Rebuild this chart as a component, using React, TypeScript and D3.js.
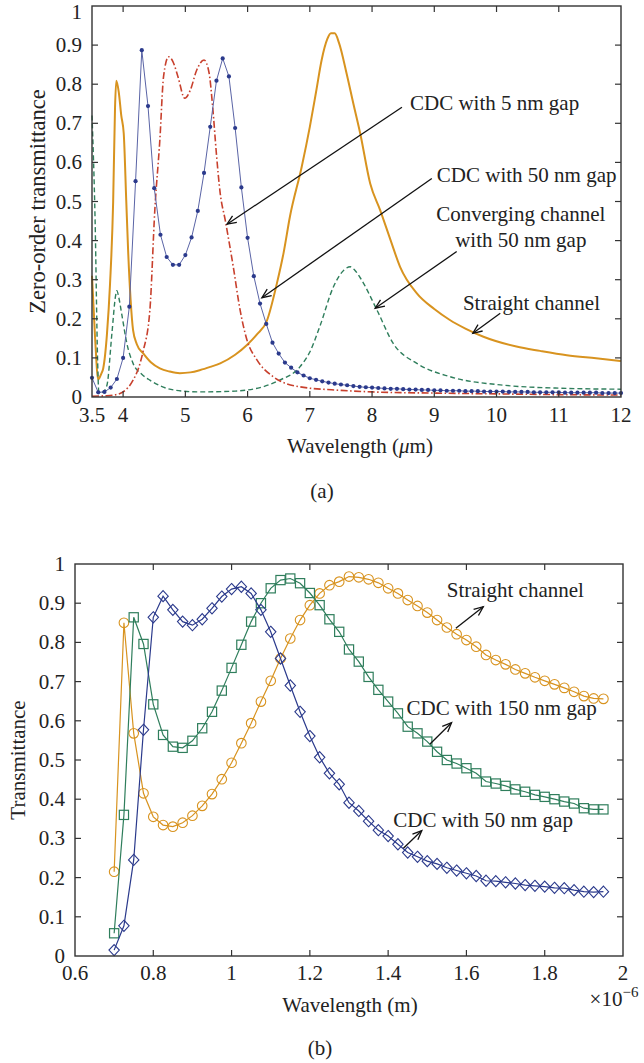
import React from 'react';
import * as d3 from 'd3';

// ---- panel (a): zero-order transmittance vs wavelength (um) ----
// CDC with 50 nm gap, sampled every 0.1 um from 3.5 to 12
const gap50AStart = 3.5;
const gap50AStep = 0.1;
const gap50AY = [
  0.049, 0.012, 0.013, 0.024, 0.046, 0.100,
  0.231, 0.552, 0.887, 0.744, 0.534, 0.415, 0.358, 0.338, 0.338, 0.363,
  0.408, 0.476, 0.573, 0.691, 0.809, 0.866, 0.820, 0.688, 0.536, 0.407,
  0.309, 0.239, 0.187, 0.139, 0.111, 0.088, 0.075, 0.063, 0.055, 0.048,
  0.044, 0.040, 0.037, 0.034, 0.032, 0.030, 0.028, 0.026, 0.025, 0.024,
  0.023, 0.022, 0.021, 0.021, 0.020, 0.019, 0.019, 0.018, 0.018, 0.017,
  0.017, 0.016, 0.016, 0.016, 0.015, 0.015, 0.015, 0.014, 0.014, 0.014,
  0.014, 0.013, 0.013, 0.013, 0.013, 0.012, 0.012, 0.012, 0.012, 0.012,
  0.011, 0.011, 0.011, 0.011, 0.011, 0.011, 0.010, 0.010, 0.010, 0.010,
];

// CDC with 5 nm gap
const gap5A: [number, number][] = [
  [3.5, 0.002], [3.7, 0.003], [3.85, 0.005], [4.0, 0.013], [4.16, 0.043], [4.25, 0.075],
  [4.32, 0.116], [4.43, 0.222], [4.51, 0.48], [4.59, 0.657], [4.65, 0.82], [4.73, 0.87],
  [4.8, 0.858], [4.88, 0.82], [4.99, 0.764], [5.08, 0.785], [5.18, 0.835], [5.3, 0.862],
  [5.38, 0.83], [5.44, 0.74], [5.5, 0.62], [5.56, 0.521], [5.64, 0.453], [5.77, 0.333],
  [5.88, 0.222], [5.99, 0.146], [6.15, 0.095], [6.41, 0.052], [6.84, 0.026], [7.5, 0.017],
  [8, 0.013], [9, 0.01], [10, 0.008], [11, 0.006], [12, 0.005],
];

// converging channel with 50 nm gap
const convergingA: [number, number][] = [
  [3.5, 0.72], [3.55, 0.45], [3.59, 0.095], [3.61, 0.012], [3.67, 0.012], [3.74, 0.03],
  [3.82, 0.163], [3.88, 0.26], [3.9, 0.272], [3.93, 0.255], [3.98, 0.21], [4.06, 0.137],
  [4.16, 0.086], [4.3, 0.058], [4.43, 0.043], [4.81, 0.018], [5.2, 0.013], [5.8, 0.015],
  [6.0, 0.018], [6.2, 0.024], [6.5, 0.042], [6.84, 0.077], [7.0, 0.115], [7.16, 0.18],
  [7.38, 0.282], [7.55, 0.325], [7.65, 0.333], [7.72, 0.325], [7.81, 0.305], [8.08, 0.222],
  [8.34, 0.137], [8.72, 0.086], [9.25, 0.052], [10.06, 0.031], [11.13, 0.022], [12, 0.02],
];

// straight channel
const straightA: [number, number][] = [
  [3.5, 0.31], [3.55, 0.15], [3.6, 0.045], [3.65, 0.06], [3.68, 0.073], [3.74, 0.16],
  [3.79, 0.29], [3.84, 0.5], [3.87, 0.74], [3.89, 0.809], [3.93, 0.78], [3.97, 0.72],
  [4.01, 0.674], [4.05, 0.504], [4.08, 0.376], [4.12, 0.25], [4.16, 0.171], [4.22, 0.135],
  [4.32, 0.112], [4.45, 0.088], [4.59, 0.073], [4.75, 0.065], [4.91, 0.061], [5.08, 0.063],
  [5.24, 0.069], [5.4, 0.077], [5.56, 0.086], [5.8, 0.108], [5.99, 0.133], [6.15, 0.16],
  [6.31, 0.195], [6.47, 0.29], [6.58, 0.37], [6.68, 0.461], [6.87, 0.589], [7.0, 0.691],
  [7.1, 0.78], [7.19, 0.862], [7.28, 0.915], [7.34, 0.93], [7.4, 0.93], [7.47, 0.905],
  [7.59, 0.828], [7.7, 0.75], [7.81, 0.674], [7.97, 0.546], [8.13, 0.478], [8.3, 0.4],
  [8.45, 0.333], [8.72, 0.265], [9.0, 0.225], [9.25, 0.197], [9.5, 0.175], [9.79, 0.154],
  [10.32, 0.129], [10.7, 0.118], [11.13, 0.107], [11.6, 0.099], [12, 0.092],
];

const ticksAX = [3.5, 4, 5, 6, 7, 8, 9, 10, 11, 12];
const ticksY = [0, 0.1, 0.2, 0.3, 0.4, 0.5, 0.6, 0.7, 0.8, 0.9, 1];

// ---- panel (b): transmittance vs wavelength (x1e-6 m), every 0.025 from 0.7 to 1.95 ----
const bStart = 0.7;
const bStep = 0.025;
const straightB = [
  0.215, 0.850, 0.568, 0.415, 0.355, 0.334, 0.330, 0.340, 0.358, 0.383,
  0.413, 0.451, 0.493, 0.543, 0.594, 0.649, 0.702, 0.759, 0.810, 0.857,
  0.895, 0.925, 0.946, 0.955, 0.968, 0.966, 0.961, 0.952, 0.938, 0.925,
  0.908, 0.893, 0.876, 0.857, 0.838, 0.821, 0.806, 0.789, 0.768, 0.755,
  0.744, 0.731, 0.721, 0.711, 0.702, 0.693, 0.684, 0.674, 0.663, 0.657, 0.656,
];
const gap150B = [
  0.058, 0.360, 0.864, 0.796, 0.642, 0.564, 0.534, 0.531, 0.549, 0.581,
  0.623, 0.677, 0.735, 0.794, 0.853, 0.900, 0.938, 0.959, 0.963, 0.951,
  0.926, 0.895, 0.859, 0.827, 0.782, 0.751, 0.712, 0.679, 0.649, 0.619,
  0.585, 0.568, 0.547, 0.521, 0.500, 0.491, 0.479, 0.466, 0.445, 0.440,
  0.434, 0.425, 0.419, 0.411, 0.406, 0.400, 0.394, 0.389, 0.377, 0.374, 0.374,
];
const gap50B = [
  0.015, 0.077, 0.245, 0.577, 0.864, 0.918, 0.883, 0.853, 0.844, 0.859,
  0.887, 0.917, 0.936, 0.942, 0.925, 0.883, 0.827, 0.759, 0.690, 0.623,
  0.561, 0.507, 0.466, 0.438, 0.391, 0.370, 0.344, 0.321, 0.306, 0.285,
  0.264, 0.253, 0.242, 0.235, 0.225, 0.218, 0.211, 0.204, 0.192, 0.191,
  0.188, 0.185, 0.181, 0.179, 0.177, 0.174, 0.173, 0.168, 0.164, 0.163, 0.164,
];
const ticksBX = [0.6, 0.8, 1, 1.2, 1.4, 1.6, 1.8, 2];

const FONT = '"Liberation Serif", "DejaVu Serif", serif';
const ORANGE = '#d8931f';
const NAVY = '#2b3a8c';
const GREEN = '#2f7e5c';
const RED = '#c8402d';
const INK = '#222';

const fmt = (v: number) => String(+v.toFixed(2));

const Arrow = ({ x1, y1, x2, y2 }: { x1: number; y1: number; x2: number; y2: number }) => {
  const a = Math.atan2(y2 - y1, x2 - x1);
  const L = 10, w = 0.4;
  const p1 = [x2 - L * Math.cos(a - w), y2 - L * Math.sin(a - w)];
  const p2 = [x2 - L * Math.cos(a + w), y2 - L * Math.sin(a + w)];
  return (
    <g stroke="#111" strokeWidth={1.3} fill="none">
      <line x1={x1} y1={y1} x2={x2} y2={y2} />
      <polyline points={`${p1.join(',')} ${x2},${y2} ${p2.join(',')}`} />
    </g>
  );
};

const Frame = ({ x, y, xt, yt }: any) => {
  const [l, r] = x.range();
  const [b, t] = y.range();
  const len = 6;
  return (
    <g>
      <rect x={l} y={t} width={r - l} height={b - t} fill="none" stroke="#333" strokeWidth={1.4} />
      {xt.filter((v: number) => v > x.domain()[0] && v < x.domain()[1]).map((v: number) => (
        <g key={'x' + v} stroke="#333" strokeWidth={1.2}>
          <line x1={x(v)} x2={x(v)} y1={b} y2={b - len} />
          <line x1={x(v)} x2={x(v)} y1={t} y2={t + len} />
        </g>
      ))}
      {yt.filter((v: number) => v > 0 && v < 1).map((v: number) => (
        <g key={'y' + v} stroke="#333" strokeWidth={1.2}>
          <line x1={l} x2={l + len} y1={y(v)} y2={y(v)} />
          <line x1={r} x2={r - len} y1={y(v)} y2={y(v)} />
        </g>
      ))}
    </g>
  );
};

export default function App() {
  // panel (a)
  const xA = d3.scaleLinear().domain([3.5, 12]).range([92, 621]);
  const yA = d3.scaleLinear().domain([0, 1]).range([397, 6]);
  const smoothA = d3.line<[number, number]>().x(d => xA(d[0])).y(d => yA(d[1])).curve(d3.curveMonotoneX);
  const gap50APts: [number, number][] = gap50AY.map((v, i) => [gap50AStart + i * gap50AStep, v]);
  const linA = d3.line<[number, number]>().x(d => xA(d[0])).y(d => yA(d[1]));

  // panel (b)
  const xB = d3.scaleLinear().domain([0.6, 2]).range([75, 623]);
  const yB = d3.scaleLinear().domain([0, 1]).range([956, 564]);
  const toPts = (ys: number[]): [number, number][] => ys.map((v, i) => [bStart + i * bStep, v]);
  const linB = d3.line<[number, number]>().x(d => xB(d[0])).y(d => yB(d[1]));
  const sB = toPts(straightB), g150 = toPts(gap150B), g50 = toPts(gap50B);

  const txt = { fontFamily: FONT, fontSize: 21, fill: INK } as const;

  return (
    <svg width={644} height={1063} style={{ position: 'absolute', left: 0, top: 0, background: '#fff' }}>
      {/* ---------- (a) ---------- */}
      <path d={smoothA(straightA) || ''} fill="none" stroke={ORANGE} strokeWidth={2} />
      <path d={smoothA(convergingA) || ''} fill="none" stroke={GREEN} strokeWidth={1.4} strokeDasharray="5,3" />
      <path d={smoothA(gap5A) || ''} fill="none" stroke={RED} strokeWidth={1.6} strokeDasharray="7,2.5,1.5,2.5" />
      <path d={linA(gap50APts) || ''} fill="none" stroke="#5a64a6" strokeWidth={1} />
      {gap50APts.map((d, i) => (
        <circle key={i} cx={xA(d[0])} cy={yA(d[1])} r={2.1} fill={NAVY} />
      ))}
      <Frame x={xA} y={yA} xt={ticksAX} yt={ticksY} />
      {ticksAX.map(v => (
        <text key={v} {...txt} x={xA(v)} y={422} textAnchor="middle">{fmt(v)}</text>
      ))}
      {ticksY.map(v => (
        <text key={v} {...txt} x={82} y={Math.max(yA(v) + 7, 19)} textAnchor="end">{fmt(v)}</text>
      ))}
      <text {...txt} x={360} y={453} textAnchor="middle">
        Wavelength (<tspan fontStyle="italic">μ</tspan>m)
      </text>
      <text {...txt} fontSize={22.5} transform={`translate(45,${yA(0.5)}) rotate(-90)`} textAnchor="middle">
        Zero-order transmittance
      </text>
      <text {...txt} x={322} y={498} textAnchor="middle">(a)</text>

      {/* annotations (a) */}
      <text {...txt} x={xA(8.61)} y={yA(0.734)}>CDC with 5 nm gap</text>
      <Arrow x1={xA(8.48)} y1={yA(0.741)} x2={xA(5.67)} y2={yA(0.442)} />
      <text {...txt} x={xA(9.04)} y={yA(0.551)}>CDC with 50 nm gap</text>
      <Arrow x1={xA(8.96)} y1={yA(0.559)} x2={xA(6.23)} y2={yA(0.254)} />
      <text {...txt} x={xA(10.39)} y={yA(0.451)} textAnchor="middle">Converging channel</text>
      <text {...txt} x={xA(10.39)} y={yA(0.384)} textAnchor="middle">with 50 nm gap</text>
      <Arrow x1={xA(9.36)} y1={yA(0.372)} x2={xA(8.05)} y2={yA(0.227)} />
      <text {...txt} x={xA(9.46)} y={yA(0.2225)}>Straight channel</text>
      <Arrow x1={xA(10.06)} y1={yA(0.214)} x2={xA(9.62)} y2={yA(0.163)} />

      {/* ---------- (b) ---------- */}
      <path d={linB(sB) || ''} fill="none" stroke={ORANGE} strokeWidth={1.2} />
      {sB.map((d, i) => (
        <circle key={i} cx={xB(d[0])} cy={yB(d[1])} r={4.8} fill="none" stroke={ORANGE} strokeWidth={1.1} />
      ))}
      <path d={linB(g150) || ''} fill="none" stroke={GREEN} strokeWidth={1.2} />
      {g150.map((d, i) => (
        <rect key={i} x={xB(d[0]) - 4.6} y={yB(d[1]) - 4.6} width={9.2} height={9.2} fill="none" stroke={GREEN} strokeWidth={1.2} />
      ))}
      <path d={linB(g50) || ''} fill="none" stroke={NAVY} strokeWidth={1.2} />
      {g50.map((d, i) => (
        <path key={i} transform={`translate(${xB(d[0])},${yB(d[1])})`} d="M0,-5.6L5.2,0L0,5.6L-5.2,0Z" fill="none" stroke={NAVY} strokeWidth={1.1} />
      ))}
      <Frame x={xB} y={yB} xt={ticksBX} yt={ticksY} />
      {ticksBX.map(v => (
        <text key={v} {...txt} x={xB(v)} y={980} textAnchor="middle">{fmt(v)}</text>
      ))}
      {ticksY.map(v => (
        <text key={v} {...txt} x={65} y={yB(v) + 7} textAnchor="end">{fmt(v)}</text>
      ))}
      <text {...txt} x={614} y={1006} textAnchor="middle">
        ×10<tspan fontSize={15} dy={-9}>−6</tspan>
      </text>
      <text {...txt} x={350} y={1012} textAnchor="middle">Wavelength (m)</text>
      <text {...txt} transform={`translate(25,${yB(0.5)}) rotate(-90)`} textAnchor="middle">Transmittance</text>
      <text {...txt} x={320} y={1055} textAnchor="middle">(b)</text>

      {/* annotations (b) */}
      <text {...txt} x={xB(1.55)} y={yB(0.917)}>Straight channel</text>
      <Arrow x1={xB(1.573)} y1={yB(0.836)} x2={xB(1.643)} y2={yB(0.891)} />
      <text {...txt} x={xB(1.447)} y={yB(0.615)}>CDC with 150 nm gap</text>
      <Arrow x1={xB(1.507)} y1={yB(0.541)} x2={xB(1.562)} y2={yB(0.595)} />
      <text {...txt} x={xB(1.413)} y={yB(0.33)}>CDC with 50 nm gap</text>
      <Arrow x1={xB(1.439)} y1={yB(0.275)} x2={xB(1.486)} y2={yB(0.32)} />
    </svg>
  );
}
